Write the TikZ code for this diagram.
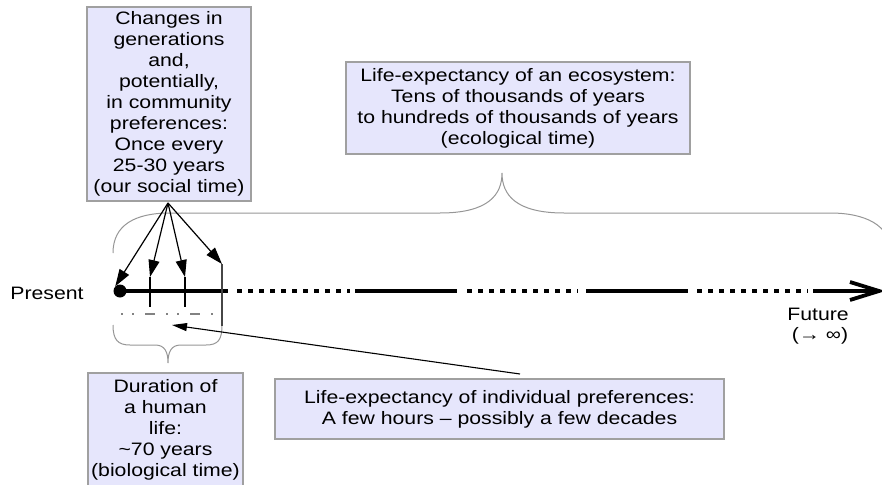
\documentclass[tikz,border=0pt]{standalone}
\usepackage{fontspec}
\setmainfont{Liberation Sans}[FakeStretch=1.18]
\usetikzlibrary{arrows.meta}
\definecolor{boxfill}{RGB}{230,230,252}
\definecolor{boxline}{RGB}{160,160,160}
\definecolor{bracecol}{RGB}{150,150,150}
\definecolor{dashcol}{RGB}{130,130,130}
\begin{document}
\begin{tikzpicture}[x=1pt,y=-1pt,
  every node/.style={font=\fontsize{18}{21}\selectfont},
  infobox/.style={draw=boxline, line width=1.2pt, fill=boxfill, align=center, inner sep=0pt},
  brace/.style={draw=bracecol, line width=1pt},
  pointer/.style={-{Triangle[length=17pt,width=11pt]}, line width=1.2pt},
  smallpointer/.style={-{Triangle[length=15pt,width=8pt]}, line width=1.1pt},
  tickline/.style={line width=1.3pt},
  axis/.style={line width=4.5pt},
  dotseg/.style={line width=4.5pt, dash pattern=on 4.5pt off 6.5pt}]
\useasboundingbox (0,0) rectangle (882,484);
\clip (0,0) rectangle (882,484);

% boxes
\node[infobox, minimum width=164pt, minimum height=194pt] (social) at (169,104)
  {Changes in\\generations\\and,\\potentially,\\in community\\preferences:\\Once every\\25-30 years\\(our social time)};
\node[infobox, minimum width=344pt, minimum height=92pt] (eco) at (518,108)
  {Life-expectancy of an ecosystem:\\Tens of thousands of years\\to hundreds of thousands of years\\(ecological time)};
\node[infobox, minimum width=449pt, minimum height=60pt] (indiv) at (499.5,409)
  {Life-expectancy of individual preferences:\\A few hours -- possibly a few decades};
\node[infobox, minimum width=155pt, minimum height=114pt] (life) at (165.5,430)
  {Duration of\\a human\\life:\\\textasciitilde70 years\\(biological time)};

% labels
\node (presentlbl) at (47,293) {Present};
\node (futurelbl) at (818,314) {Future};
\node (inflbl) at (820,336) {(→ ∞)};

% big brace (ecological time)
\draw[brace] (113,253) .. controls (113,225) and (135,213) .. (170,213) -- (440,213)
  .. controls (488,213) and (502,195) .. (502,173)
  .. controls (502,195) and (516,213) .. (564,213) -- (830,213)
  .. controls (865,213) and (891,225) .. (891,253);

% small brace (biological time)
\draw[brace] (113,325) .. controls (113,340) and (118,345) .. (130,345) -- (155,345)
  .. controls (165,345) and (168,352) .. (168,363)
  .. controls (168,352) and (171,345) .. (181,345) -- (206,345)
  .. controls (218,345) and (222,340) .. (222,325);

% timeline
\node[circle, fill=black, inner sep=0pt, minimum size=13pt] (present) at (120,291) {};
\coordinate (s1) at (228,291);
\draw[axis] (present.center) -- (s1);
\draw[dotseg] (237,291) -- (350,291);
\draw[axis] (355,291) -- (457,291);
\draw[dotseg] (467,291) -- (578,291);
\draw[axis] (586,291) -- (688,291);
\draw[dotseg] (697,291) -- (808,291);
\coordinate (tip) at (879,291);
\draw[axis] (813,291) -- (874,291);
\draw[line width=3.8pt, line join=miter, line cap=butt] (850,282) -- (tip) -- (850,300);

% ticks
\coordinate (t1) at (150,277); \coordinate (t1b) at (150,307);
\coordinate (t2) at (185,277); \coordinate (t2b) at (185,307);
\coordinate (t3) at (222,264); \coordinate (t3b) at (222,326);
\draw[tickline] (t1) -- (t1b);
\draw[tickline] (t2) -- (t2b);
\draw[tickline, draw={rgb,255:red,70;green,70;blue,70}] (t3) -- (t3b);

% dash-dot line of individual preferences
\draw[dashcol, line width=2.2pt, dash pattern=on 2.2pt off 8.8pt on 2.2pt off 10.8pt on 10pt off 11pt] (121,314) -- (214,314);

% arrows from the social box
\coordinate (apex) at (168,203);
\draw[pointer] (apex) -- (present.north west);
\draw[pointer] (apex) -- (t1);
\draw[pointer] (apex) -- (t2);
\draw[pointer] (apex) -- (t3);

% arrow from the individual preferences box
\coordinate (ipstart) at (520,374);
\coordinate (iptip) at (172,325);
\draw[smallpointer] (ipstart) -- (iptip);
\end{tikzpicture}
\end{document}
